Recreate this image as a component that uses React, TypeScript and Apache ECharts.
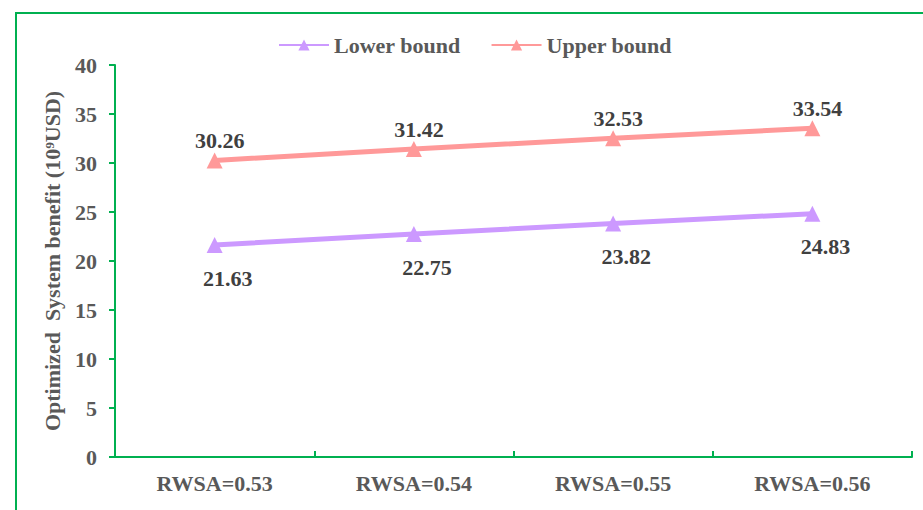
import React, { useEffect, useRef } from "react";
import * as echarts from "echarts";

const categories = ["RWSA=0.53", "RWSA=0.54", "RWSA=0.55", "RWSA=0.56"];
const lowerBound = [21.63, 22.75, 23.82, 24.83];
const upperBound = [30.26, 31.42, 32.53, 33.54];
const yTicks = { min: 0, max: 40, interval: 5 };

const FONT = "'Liberation Serif', 'Times New Roman', serif";
const GREEN = "#00b050";
const AXIS_TEXT = "#595959";
const LABEL_TEXT = "#404040";

export default function App() {
  const ref = useRef<HTMLDivElement>(null);
  useEffect(() => {
    if (!ref.current) return;
    const chart = echarts.init(ref.current, undefined, { renderer: "svg" });
    chart.setOption({
      animation: false,
      backgroundColor: "#ffffff",
      graphic: [
        {
          type: "rect",
          shape: { x: 16, y: 13, width: 1000, height: 600 },
          style: { fill: "none", stroke: GREEN, lineWidth: 2 },
          silent: true,
        },
      ],
      legend: {
        left: 273,
        top: 29,
        itemWidth: 50,
        itemHeight: 14,
        itemGap: 30,
        textStyle: { fontFamily: FONT, fontSize: 22, fontWeight: "bold", color: AXIS_TEXT },
        data: ["Lower bound", "Upper bound"],
      },
      grid: { left: 115, right: 11, top: 65, bottom: 53, containLabel: false },
      xAxis: {
        type: "category",
        data: categories,
        boundaryGap: true,
        axisLine: { lineStyle: { color: GREEN, width: 2 } },
        axisTick: { show: true, inside: true, length: 6, alignWithLabel: false, lineStyle: { color: GREEN, width: 2 } },
        axisLabel: { margin: 15, fontFamily: FONT, fontSize: 22, fontWeight: "bold", color: AXIS_TEXT },
        splitLine: { show: false },
      },
      yAxis: {
        type: "value",
        min: yTicks.min,
        max: yTicks.max,
        interval: yTicks.interval,
        name: "Optimized  System benefit (10⁹USD)",
        nameLocation: "middle",
        nameGap: 52,
        nameRotate: 90,
        nameTextStyle: { fontFamily: FONT, fontSize: 22, fontWeight: "bold", color: AXIS_TEXT },
        axisLine: { show: true, lineStyle: { color: GREEN, width: 2 } },
        axisTick: { show: true, inside: false, length: 6, lineStyle: { color: GREEN, width: 2 } },
        axisLabel: { margin: 18, fontFamily: FONT, fontSize: 22, fontWeight: "bold", color: AXIS_TEXT },
        splitLine: { show: false },
      },
      series: [
        {
          name: "Lower bound",
          type: "line",
          data: lowerBound,
          symbol: "triangle",
          symbolSize: 16,
          lineStyle: { color: "#cc99ff", width: 5 },
          itemStyle: { color: "#cc99ff" },
          label: {
            show: true,
            position: "bottom",
            distance: 14,
            offset: [13, 0],
            fontFamily: FONT,
            fontSize: 22,
            fontWeight: "bold",
            color: LABEL_TEXT,
            formatter: (p: any) => p.value.toFixed(2),
          },
        },
        {
          name: "Upper bound",
          type: "line",
          data: upperBound,
          symbol: "triangle",
          symbolSize: 16,
          lineStyle: { color: "#ff9999", width: 5 },
          itemStyle: { color: "#ff9999" },
          label: {
            show: true,
            position: "top",
            distance: 1,
            offset: [5, 0],
            fontFamily: FONT,
            fontSize: 22,
            fontWeight: "bold",
            color: LABEL_TEXT,
            formatter: (p: any) => p.value.toFixed(2),
          },
        },
      ],
    });
    return () => chart.dispose();
  }, []);
  return (
    <div
      ref={ref}
      style={{ position: "fixed", left: 0, top: 0, width: 923, height: 510, background: "#fff" }}
    />
  );
}
